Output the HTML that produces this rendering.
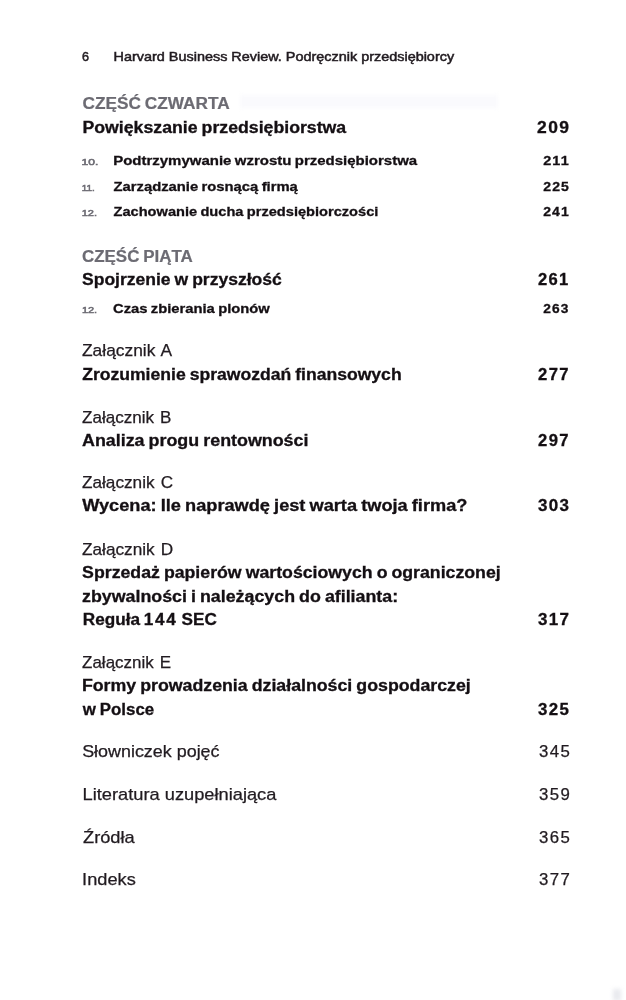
<!DOCTYPE html>
<html lang="pl"><head><meta charset="utf-8"><title>Spis treści</title>
<style>
html,body{margin:0;padding:0;background:#fff}
body{width:626px;height:1000px;position:relative;overflow:hidden;font-family:"Liberation Sans",sans-serif}
.t{position:absolute;left:0;white-space:nowrap;line-height:1;margin:0;transform-origin:0 0}
.d{letter-spacing:.1em}
#pg{position:absolute;left:0;top:0;width:626px;height:1000px;filter:blur(.4px)}
.g{position:absolute;filter:blur(2px)}
</style></head><body><div id="pg">
<div class="g" style="left:240px;top:95px;width:258px;height:13px;background:rgba(205,210,232,.10)"></div>
<div class="g" style="left:613px;top:989px;width:8px;height:12px;background:rgba(190,192,205,.35)"></div>
<div class="t" style="top:49.95px;font-size:13.0px;font-weight:400;color:#211b20;-webkit-text-stroke:0.5px #211b20;transform:translateX(81.95px) scaleX(0.9721);">6</div>
<div class="t" style="top:49.95px;font-size:13.0px;font-weight:400;color:#211b20;-webkit-text-stroke:0.5px #211b20;transform:translateX(113.59px) scaleX(1.1089);">Harvard Business Review. Podręcznik przedsiębiorcy</div>
<div class="t" style="top:96.04px;font-size:15.6px;font-weight:700;color:#6c6b73;-webkit-text-stroke:0.2px #6c6b73;word-spacing:-0.05em;transform:translateX(82.42px) scaleX(1.1060);">CZĘŚĆ CZWARTA</div>
<div class="t" style="top:120.01px;font-size:16.0px;font-weight:700;color:#140f13;-webkit-text-stroke:0.3px #140f13;word-spacing:-0.05em;transform:translateX(82.48px) scaleX(1.1062);">Powiększanie przedsiębiorstwa</div>
<div class="t" style="top:120.04px;font-size:15.6px;font-weight:700;color:#140f13;-webkit-text-stroke:0.3px #140f13;letter-spacing:0.08em;transform:translateX(537.02px) scaleX(1.1195);">209</div>
<div class="t" style="top:157.98px;font-size:9.3px;font-weight:400;color:#6c6b73;-webkit-text-stroke:0.55px #6c6b73;transform:translateX(81.62px) scaleX(1.2935);">10.</div>
<div class="t" style="top:153.98px;font-size:13.2px;font-weight:700;color:#140f13;-webkit-text-stroke:0.3px #140f13;word-spacing:-0.05em;transform:translateX(113.19px) scaleX(1.1357);">Podtrzymywanie wzrostu przedsiębiorstwa</div>
<div class="t" style="top:155.02px;font-size:12.2px;font-weight:700;color:#140f13;-webkit-text-stroke:0.3px #140f13;letter-spacing:0.08em;transform:translateX(543.19px) scaleX(1.1800);">211</div>
<div class="t" style="top:183.98px;font-size:9.3px;font-weight:400;color:#6c6b73;-webkit-text-stroke:0.55px #6c6b73;transform:translateX(81.81px) scaleX(1.0624);">11.</div>
<div class="t" style="top:179.98px;font-size:13.2px;font-weight:700;color:#140f13;-webkit-text-stroke:0.3px #140f13;word-spacing:-0.05em;transform:translateX(113.48px) scaleX(1.1218);">Zarządzanie rosnącą firmą</div>
<div class="t" style="top:181.02px;font-size:12.2px;font-weight:700;color:#140f13;-webkit-text-stroke:0.3px #140f13;letter-spacing:0.08em;transform:translateX(543.22px) scaleX(1.1501);">225</div>
<div class="t" style="top:208.98px;font-size:9.3px;font-weight:400;color:#6c6b73;-webkit-text-stroke:0.55px #6c6b73;transform:translateX(81.69px) scaleX(1.1839);">12.</div>
<div class="t" style="top:204.98px;font-size:13.2px;font-weight:700;color:#140f13;-webkit-text-stroke:0.3px #140f13;word-spacing:-0.05em;transform:translateX(113.49px) scaleX(1.1079);">Zachowanie ducha przedsiębiorczości</div>
<div class="t" style="top:206.02px;font-size:12.2px;font-weight:700;color:#140f13;-webkit-text-stroke:0.3px #140f13;letter-spacing:0.08em;transform:translateX(543.22px) scaleX(1.1465);">241</div>
<div class="t" style="top:249.04px;font-size:15.6px;font-weight:700;color:#6c6b73;-webkit-text-stroke:0.2px #6c6b73;word-spacing:-0.05em;transform:translateX(81.94px) scaleX(1.0870);">CZĘŚĆ PIĄTA</div>
<div class="t" style="top:272.01px;font-size:16.0px;font-weight:700;color:#140f13;-webkit-text-stroke:0.3px #140f13;word-spacing:-0.05em;transform:translateX(82.02px) scaleX(1.0945);">Spojrzenie w przyszłość</div>
<div class="t" style="top:272.04px;font-size:15.6px;font-weight:700;color:#140f13;-webkit-text-stroke:0.3px #140f13;letter-spacing:0.08em;transform:translateX(538.03px) scaleX(1.0624);">261</div>
<div class="t" style="top:305.98px;font-size:9.3px;font-weight:400;color:#6c6b73;-webkit-text-stroke:0.55px #6c6b73;transform:translateX(81.90px) scaleX(1.1771);">12.</div>
<div class="t" style="top:301.98px;font-size:13.2px;font-weight:700;color:#140f13;-webkit-text-stroke:0.3px #140f13;word-spacing:-0.05em;transform:translateX(113.03px) scaleX(1.1187);">Czas zbierania plonów</div>
<div class="t" style="top:303.02px;font-size:12.2px;font-weight:700;color:#140f13;-webkit-text-stroke:0.3px #140f13;letter-spacing:0.08em;transform:translateX(543.21px) scaleX(1.1256);">263</div>
<div class="t" style="top:342.99px;font-size:15.9px;font-weight:400;color:#211b20;-webkit-text-stroke:0.25px #211b20;word-spacing:0.08em;transform:translateX(82.00px) scaleX(1.0931);">Załącznik A</div>
<div class="t" style="top:367.01px;font-size:16.0px;font-weight:700;color:#140f13;-webkit-text-stroke:0.3px #140f13;word-spacing:-0.05em;transform:translateX(82.17px) scaleX(1.0982);">Zrozumienie sprawozdań finansowych</div>
<div class="t" style="top:367.04px;font-size:15.6px;font-weight:700;color:#140f13;-webkit-text-stroke:0.3px #140f13;letter-spacing:0.08em;transform:translateX(538.10px) scaleX(1.0657);">277</div>
<div class="t" style="top:409.99px;font-size:15.9px;font-weight:400;color:#211b20;-webkit-text-stroke:0.25px #211b20;word-spacing:0.08em;transform:translateX(82.00px) scaleX(1.0723);">Załącznik B</div>
<div class="t" style="top:433.01px;font-size:16.0px;font-weight:700;color:#140f13;-webkit-text-stroke:0.3px #140f13;word-spacing:-0.05em;transform:translateX(82.00px) scaleX(1.1162);">Analiza progu rentowności</div>
<div class="t" style="top:433.04px;font-size:15.6px;font-weight:700;color:#140f13;-webkit-text-stroke:0.3px #140f13;letter-spacing:0.08em;transform:translateX(538.10px) scaleX(1.0657);">297</div>
<div class="t" style="top:474.99px;font-size:15.9px;font-weight:400;color:#211b20;-webkit-text-stroke:0.25px #211b20;word-spacing:0.08em;transform:translateX(82.00px) scaleX(1.0813);">Załącznik C</div>
<div class="t" style="top:498.01px;font-size:16.0px;font-weight:700;color:#140f13;-webkit-text-stroke:0.3px #140f13;word-spacing:-0.05em;transform:translateX(82.13px) scaleX(1.1363);">Wycena: Ile naprawdę jest warta twoja firma?</div>
<div class="t" style="top:498.04px;font-size:15.6px;font-weight:700;color:#140f13;-webkit-text-stroke:0.3px #140f13;letter-spacing:0.08em;transform:translateX(537.98px) scaleX(1.0886);">303</div>
<div class="t" style="top:541.99px;font-size:15.9px;font-weight:400;color:#211b20;-webkit-text-stroke:0.25px #211b20;word-spacing:0.08em;transform:translateX(82.00px) scaleX(1.0824);">Załącznik D</div>
<div class="t" style="top:565.01px;font-size:16.0px;font-weight:700;color:#140f13;-webkit-text-stroke:0.3px #140f13;word-spacing:-0.05em;transform:translateX(82.12px) scaleX(1.1067);">Sprzedaż papierów wartościowych o ograniczonej</div>
<div class="t" style="top:589.01px;font-size:16.0px;font-weight:700;color:#140f13;-webkit-text-stroke:0.3px #140f13;word-spacing:-0.05em;transform:translateX(82.00px) scaleX(1.1131);">zbywalności i należących do afilianta:</div>
<div class="t" style="top:612.01px;font-size:16.0px;font-weight:700;color:#140f13;-webkit-text-stroke:0.3px #140f13;word-spacing:-0.05em;transform:translateX(82.80px) scaleX(1.0714);">Reguła <span class="d">144</span> SEC</div>
<div class="t" style="top:612.04px;font-size:15.6px;font-weight:700;color:#140f13;-webkit-text-stroke:0.3px #140f13;letter-spacing:0.08em;transform:translateX(537.97px) scaleX(1.0880);">317</div>
<div class="t" style="top:654.99px;font-size:15.9px;font-weight:400;color:#211b20;-webkit-text-stroke:0.25px #211b20;word-spacing:0.08em;transform:translateX(82.06px) scaleX(1.0677);">Załącznik E</div>
<div class="t" style="top:678.01px;font-size:16.0px;font-weight:700;color:#140f13;-webkit-text-stroke:0.3px #140f13;word-spacing:-0.05em;transform:translateX(81.88px) scaleX(1.1092);">Formy prowadzenia działalności gospodarczej</div>
<div class="t" style="top:702.01px;font-size:16.0px;font-weight:700;color:#140f13;-webkit-text-stroke:0.3px #140f13;word-spacing:-0.05em;transform:translateX(82.87px) scaleX(1.0538);">w Polsce</div>
<div class="t" style="top:702.04px;font-size:15.6px;font-weight:700;color:#140f13;-webkit-text-stroke:0.3px #140f13;letter-spacing:0.08em;transform:translateX(537.98px) scaleX(1.0809);">325</div>
<div class="t" style="top:743.04px;font-size:16.2px;font-weight:400;color:#211b20;-webkit-text-stroke:0.25px #211b20;transform:translateX(82.16px) scaleX(1.1063);">Słowniczek pojęć</div>
<div class="t" style="top:744.04px;font-size:15.6px;font-weight:400;color:#211b20;-webkit-text-stroke:0.25px #211b20;letter-spacing:0.08em;transform:translateX(539.07px) scaleX(1.0766);">345</div>
<div class="t" style="top:786.04px;font-size:16.2px;font-weight:400;color:#211b20;-webkit-text-stroke:0.25px #211b20;transform:translateX(82.52px) scaleX(1.1279);">Literatura uzupełniająca</div>
<div class="t" style="top:787.04px;font-size:15.6px;font-weight:400;color:#211b20;-webkit-text-stroke:0.25px #211b20;letter-spacing:0.08em;transform:translateX(539.07px) scaleX(1.0766);">359</div>
<div class="t" style="top:829.04px;font-size:16.2px;font-weight:400;color:#211b20;-webkit-text-stroke:0.25px #211b20;transform:translateX(83.00px) scaleX(1.1273);">Źródła</div>
<div class="t" style="top:830.04px;font-size:15.6px;font-weight:400;color:#211b20;-webkit-text-stroke:0.25px #211b20;letter-spacing:0.08em;transform:translateX(539.07px) scaleX(1.0766);">365</div>
<div class="t" style="top:871.04px;font-size:16.2px;font-weight:400;color:#211b20;-webkit-text-stroke:0.25px #211b20;transform:translateX(82.11px) scaleX(1.1245);">Indeks</div>
<div class="t" style="top:872.04px;font-size:15.6px;font-weight:400;color:#211b20;-webkit-text-stroke:0.25px #211b20;letter-spacing:0.08em;transform:translateX(539.07px) scaleX(1.0766);">377</div>
</div></body></html>
